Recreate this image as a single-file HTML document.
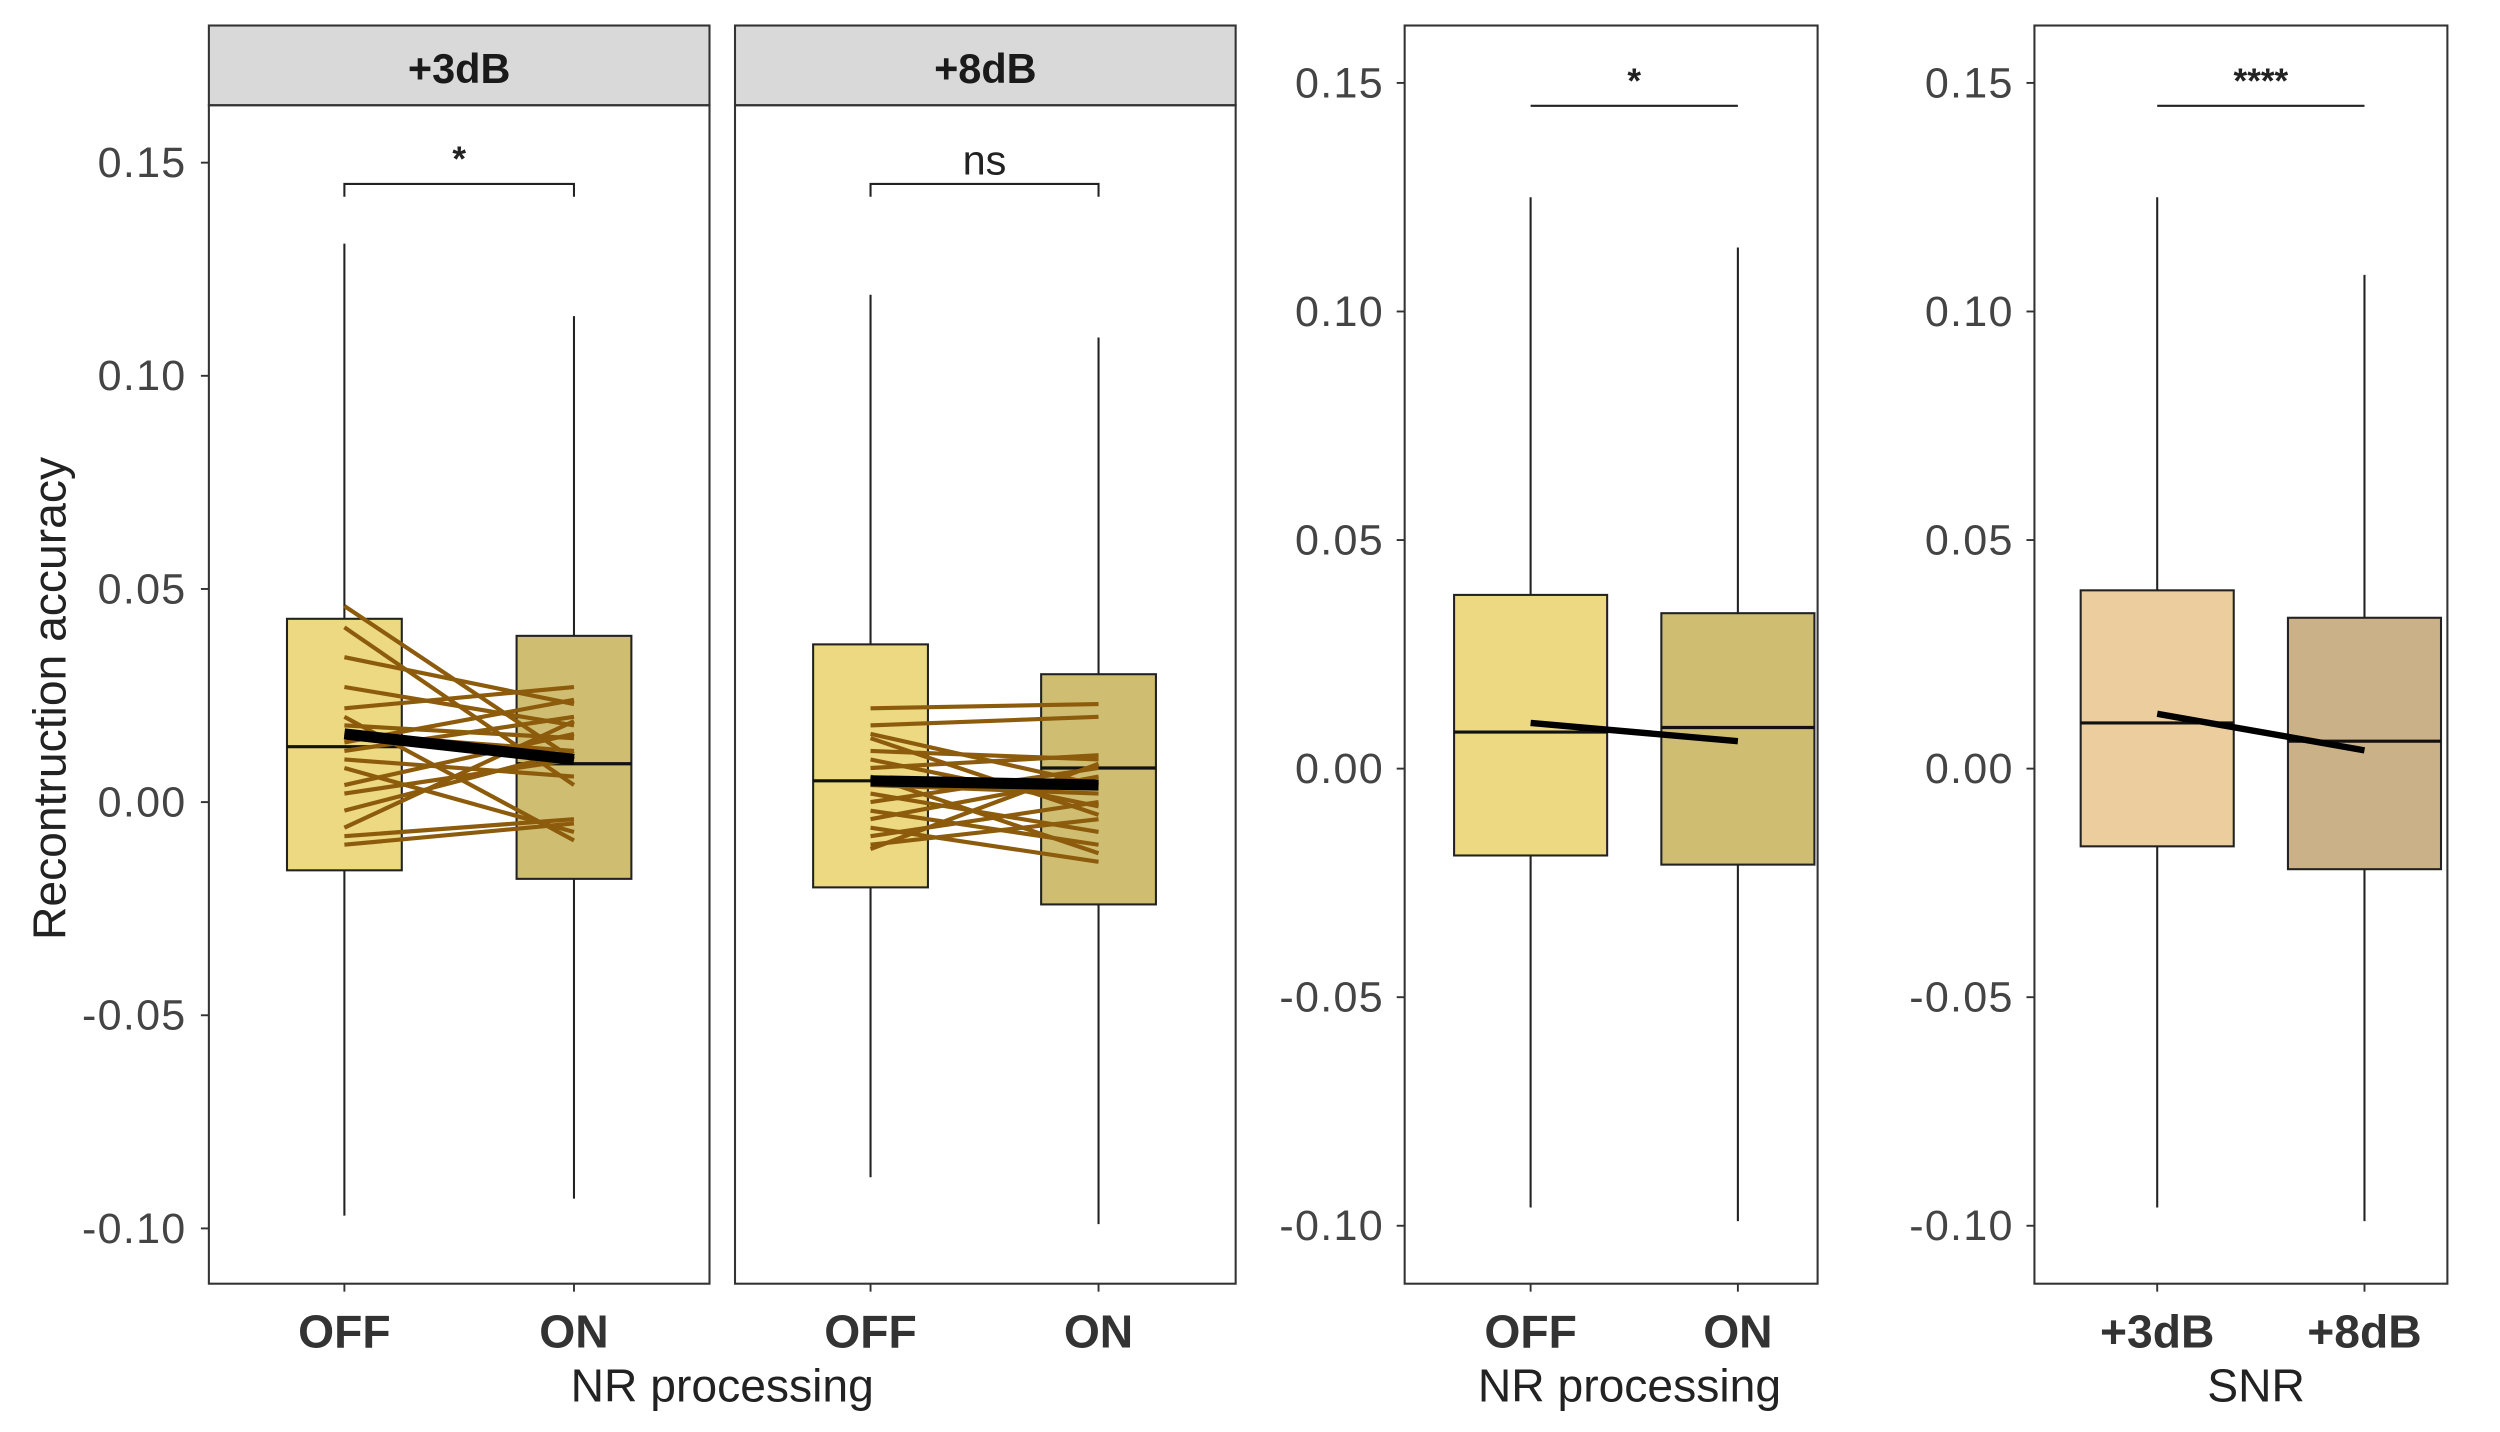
<!DOCTYPE html>
<html><head><meta charset="utf-8">
<style>
html,body{margin:0;padding:0;background:#fff;}
svg{display:block;font-family:"Liberation Sans",Arial,sans-serif;}
</style></head>
<body>
<svg id="chart" width="2500" height="1432" viewBox="0 0 1568 898" preserveAspectRatio="none" xmlns="http://www.w3.org/2000/svg">
<text transform="translate(41,438) rotate(-90)" text-anchor="middle" font-size="29" fill="#222">Recontruction accuracy</text>
<text x="453" y="879" text-anchor="middle" font-size="29" fill="#222">NR processing</text>
<text x="1022" y="879" text-anchor="middle" font-size="29" fill="#222">NR processing</text>
<text x="1415" y="879" text-anchor="middle" font-size="29" fill="#222">SNR</text>
<g id="g"></g>
</svg>
<script>
const ticks = [0.15, 0.10, 0.05, 0.00, -0.05, -0.10];
const tickLabels = ["0.15", "0.10", "0.05", "0.00", "-0.05", "-0.10"];
// box stats: [lowWhisker, q1, median, q3, highWhisker]
const p1Cats = ["OFF", "ON"];
const p1Stats = [[-0.097, -0.016, 0.013, 0.043, 0.131], [-0.093, -0.018, 0.009, 0.039, 0.114]];
const p1Mean = [0.016, 0.010];
const p1Off = [0.046, 0.041, 0.034, 0.027, 0.022, 0.020, 0.018, 0.016, 0.014, 0.012, 0.010, 0.008, 0.004, 0.002, -0.002, -0.006, -0.008, -0.010];
const p1On = [0.010, 0.004, 0.023, 0.018, 0.027, -0.009, 0.015, 0.012, 0.024, 0.020, 0.006, -0.007, 0.016, 0.010, 0.012, 0.019, -0.004, -0.005];
const p2Cats = ["OFF", "ON"];
const p2Stats = [[-0.088, -0.020, 0.005, 0.037, 0.119], [-0.099, -0.024, 0.008, 0.030, 0.109]];
const p2Mean = [0.005, 0.004];
const p2Off = [0.022, 0.018, 0.016, 0.015, 0.012, 0.010, 0.008, 0.006, 0.004, 0.002, 0.000, -0.002, -0.004, -0.006, -0.008, -0.010, -0.011];
const p2On = [0.023, 0.020, 0.004, -0.003, 0.010, -0.001, 0.011, -0.012, 0.002, -0.007, 0.008, -0.010, 0.006, -0.014, 0.000, -0.004, 0.009];
const p3Cats = ["OFF", "ON"];
const p3Stats = [[-0.096, -0.019, 0.008, 0.038, 0.125], [-0.099, -0.021, 0.009, 0.034, 0.114]];
const p3Mean = [0.010, 0.006];
const p4Cats = ["+3dB", "+8dB"];
const p4Stats = [[-0.096, -0.017, 0.010, 0.039, 0.125], [-0.099, -0.022, 0.006, 0.033, 0.108]];
const p4Mean = [0.012, 0.004];

const NS = "http://www.w3.org/2000/svg";
const root = document.getElementById("g");
function mk(tag, attrs, parent) {
  const e = document.createElementNS(NS, tag);
  for (const k in attrs) e.setAttribute(k, attrs[k]);
  (parent || root).appendChild(e);
  return e;
}
function yScale(y0px, y15px) { const per = (y15px - y0px) / 0.15; return v => y0px + v * per; }

const panels = [
  {name:"snr-3db", x0:131, x1:445, top:66, strip:"+3dB", y:yScale(503,102), cats:p1Cats, stats:p1Stats, mean:p1Mean, off:p1Off, on:p1On, cx:[216,360], hw:36, fills:["#ecd982","#cfbe72"], axis:true, sig:"*", bracket:true, labX:117},
  {name:"snr-8db", x0:461, x1:775, top:66, strip:"+8dB", y:yScale(503,102), cats:p2Cats, stats:p2Stats, mean:p2Mean, off:p2Off, on:p2On, cx:[546,689], hw:36, fills:["#ecd982","#cfbe72"], axis:false, sig:"ns", bracket:true},
  {name:"nr-overall", x0:881, x1:1140, top:16, y:yScale(482,52), cats:p3Cats, stats:p3Stats, mean:p3Mean, cx:[960,1090], hw:48, fills:["#ecd982","#cfbe72"], axis:true, sig:"*", bracket:false, labX:868},
  {name:"snr-overall", x0:1276, x1:1535, top:16, y:yScale(482,52), cats:p4Cats, stats:p4Stats, mean:p4Mean, cx:[1353,1483], hw:48, fills:["#eccd9d","#cbb187"], axis:true, sig:"****", bracket:false, labX:1263}
];
const bottom = 805;

panels.forEach(p => {
  const g = mk("g", {});
  
  
  if (p.strip) {
    const r = mk("rect", {x:p.x0, y:16, width:p.x1-p.x0, height:50, fill:"#d9d9d9", stroke:"#333", "stroke-width":1.3}, g);
    
    
    const t = mk("text", {x:(p.x0+p.x1)/2, y:52, "text-anchor":"middle", "font-size":26, "font-weight":"bold", fill:"#1a1a1a"}, g);
    t.textContent = p.strip;
    
    
  }
  const fr = mk("rect", {x:p.x0, y:p.top, width:p.x1-p.x0, height:bottom-p.top, fill:"none", stroke:"#333", "stroke-width":1.3}, g);
  
  
  if (p.axis) {
    ticks.forEach((v, i) => {
      const yy = p.y(v);
      mk("line", {x1:p.x0-5, x2:p.x0, y1:yy, y2:yy, stroke:"#333", "stroke-width":1.2}, g);
      const t = mk("text", {x:p.labX, y:yy+9, "text-anchor":"end", "font-size":27, "letter-spacing":0.8, fill:"#444"}, g);
      t.textContent = tickLabels[i];
      
      
    });
  }
  p.cats.forEach((c, i) => {
    const cx = p.cx[i], s = p.stats[i];
    mk("line", {x1:cx, x2:cx, y1:bottom, y2:bottom+5, stroke:"#333", "stroke-width":1.2}, g);
    const t = mk("text", {x:cx, y:845, "text-anchor":"middle", "font-size":29, "font-weight":"bold", fill:"#333"}, g);
    t.textContent = c;
    
    
    const w = mk("line", {x1:cx, x2:cx, y1:p.y(s[0]), y2:p.y(s[4]), stroke:"#222", "stroke-width":1.3}, g);
    
    
    const b = mk("rect", {x:cx-p.hw, y:p.y(s[3]), width:2*p.hw, height:p.y(s[1])-p.y(s[3]), fill:p.fills[i], stroke:"#222", "stroke-width":1.3}, g);
    
    
    const m = mk("line", {x1:cx-p.hw, x2:cx+p.hw, y1:p.y(s[2]), y2:p.y(s[2]), stroke:"#111", "stroke-width":2}, g);
    
    
  });
  if (p.off) {
    p.off.forEach((v, i) => {
      const l = mk("line", {x1:p.cx[0], x2:p.cx[1], y1:p.y(v), y2:p.y(p.on[i]), stroke:"#8d5b0c", "stroke-width":2.6}, g);
      
      
    });
  }
  const ml = mk("line", {x1:p.cx[0], x2:p.cx[1], y1:p.y(p.mean[0]), y2:p.y(p.mean[1]), stroke:"#000", "stroke-width":p.off ? 7 : 4}, g);
  
  
  const by = p.y(0.145);
  if (p.bracket) {
    const d = `M${p.cx[0]},${by+8} L${p.cx[0]},${by} L${p.cx[1]},${by} L${p.cx[1]},${by+8}`;
    const br = mk("path", {d:d, fill:"none", stroke:"#222", "stroke-width":1.3}, g);
    
    
  } else {
    const br = mk("line", {x1:p.cx[0], x2:p.cx[1], y1:by, y2:by, stroke:"#222", "stroke-width":1.3}, g);
    
    
  }
  const st = mk("text", {x:(p.cx[0]+p.cx[1])/2, y:p.sig==="ns" ? by-6 : by-8, "text-anchor":"middle", "font-size":p.sig==="ns"?26:22, "font-weight":p.sig==="ns"?"normal":"bold", fill:"#222"}, g);
  st.textContent = p.sig;
  
  
});
</script>
</body></html>
